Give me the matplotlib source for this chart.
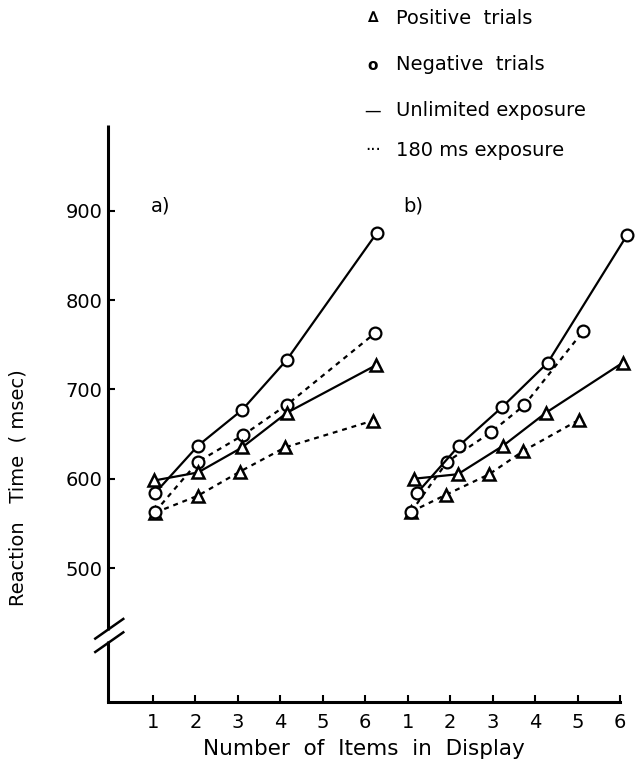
import matplotlib
matplotlib.use("Agg")
import matplotlib.pyplot as plt

plt.rcParams['font.family'] = ['DejaVu Sans']

# Number of items in display (position within each panel) and reaction times (msec)
# Panel a)
a_pos_unl_x = [1.03, 2.06, 3.10, 4.16, 6.25]
a_pos_unl_y = [598, 607, 635, 674, 727]
a_neg_unl_x = [1.05, 2.06, 3.10, 4.15, 6.27]
a_neg_unl_y = [584, 637, 677, 733, 875]
a_pos_180_x = [1.05, 2.06, 3.05, 4.11, 6.18]
a_pos_180_y = [562, 581, 608, 635, 665]
a_neg_180_x = [1.05, 2.06, 3.13, 4.16, 6.23]
a_neg_180_y = [563, 619, 649, 683, 763]

# Panel b)
b_pos_unl_x = [1.15, 2.18, 3.25, 4.26, 6.07]
b_pos_unl_y = [600, 605, 637, 674, 730]
b_neg_unl_x = [1.22, 2.21, 3.22, 4.30, 6.17]
b_neg_unl_y = [584, 637, 680, 730, 873]
b_pos_180_x = [1.08, 1.90, 2.92, 3.72, 5.04]
b_pos_180_y = [563, 582, 605, 631, 666]
b_neg_180_x = [1.08, 1.93, 2.96, 3.74, 5.13]
b_neg_180_y = [563, 619, 652, 682, 765]

panel_offset = {"a": 0.0, "b": 6.0}

x_tick_labels = ["1", "2", "3", "4", "5", "6", "1", "2", "3", "4", "5", "6"]
y_ticks = [500, 600, 700, 800, 900]

legend_rows = ["Positive  trials", "Negative  trials", "Unlimited exposure", "180 ms exposure"]
legend_syms = ["\u2206", "o", "\u2014", "\u00b7\u00b7\u00b7"]

FS = 14
W, H = 644, 768
fig = plt.figure(figsize=(W / 100, H / 100), dpi=100)
ax = fig.add_axes([108 / W, 1 - 702 / H, (620 - 108) / W, (702 - 125) / H])
ax.set_xlim(-0.06, 12.0)
ax.set_ylim(350, 996)

solid = dict(color="black", lw=1.6, linestyle="-")
dotted = dict(color="black", lw=1.6, linestyle=(0, (2.2, 2.2)))
tri = dict(marker="^", markersize=9, markerfacecolor="white",
           markeredgecolor="black", markeredgewidth=1.8)
circ = dict(marker="o", markersize=8.5, markerfacecolor="white",
            markeredgecolor="black", markeredgewidth=1.6)

series = [
    ("a", a_pos_180_x, a_pos_180_y, dotted, tri),
    ("a", a_neg_180_x, a_neg_180_y, dotted, circ),
    ("a", a_pos_unl_x, a_pos_unl_y, solid, tri),
    ("a", a_neg_unl_x, a_neg_unl_y, solid, circ),
    ("b", b_pos_180_x, b_pos_180_y, dotted, tri),
    ("b", b_neg_180_x, b_neg_180_y, dotted, circ),
    ("b", b_pos_unl_x, b_pos_unl_y, solid, tri),
    ("b", b_neg_unl_x, b_neg_unl_y, solid, circ),
]
for panel, xs, ys, ls, mk in series:
    off = panel_offset[panel]
    ax.plot([x + off for x in xs], ys, clip_on=False, zorder=3, **ls, **mk)

ax.text(0.95, 905, "a)", fontsize=FS, ha="left", va="center")
ax.text(6.9, 905, "b)", fontsize=FS, ha="left", va="center")

# Axes: bottom spine plus a left spine with a scale break
for s in ["top", "right", "left"]:
    ax.spines[s].set_visible(False)
ax.spines["bottom"].set_linewidth(2.2)

x0 = ax.get_xlim()[0]
ax.plot([x0, x0], [996, 431], color="black", lw=2.2, clip_on=False,
        solid_capstyle="butt")
ax.plot([x0, x0], [418, 350], color="black", lw=2.2, clip_on=False,
        solid_capstyle="butt")
for yc in (432, 417):
    ax.plot([x0 - 0.30, x0 + 0.36], [yc - 11, yc + 11], color="black",
            lw=1.8, clip_on=False)

ax.set_xticks(range(1, 13))
ax.set_xticklabels(x_tick_labels, fontsize=FS)
ax.set_yticks(y_ticks)
ax.set_yticklabels([str(v) for v in y_ticks], fontsize=FS)
ax.tick_params(axis="both", direction="in", length=5, width=1.5, pad=8)
ax.tick_params(axis="y", pad=4)

ax.set_xlabel("Number  of  Items  in  Display", fontsize=15.5, labelpad=5)
fig.text(18 / W, 1 - 488 / H, "Reaction   Time  ( msec)", fontsize=FS,
         rotation=90, ha="center", va="center")

# Key in the upper right corner
for i, (sym, lab) in enumerate(zip(legend_syms, legend_rows)):
    yc = 1 - [18, 65, 111, 150][i] / H
    fig.text(373 / W, yc, sym, fontsize=FS - 3 if i < 2 else FS - 2,
             ha="center", va="center", fontweight="bold" if i < 2 else "normal")
    fig.text(396 / W, yc, lab, fontsize=FS, ha="left", va="center")

fig.savefig("out.png", dpi=100)
